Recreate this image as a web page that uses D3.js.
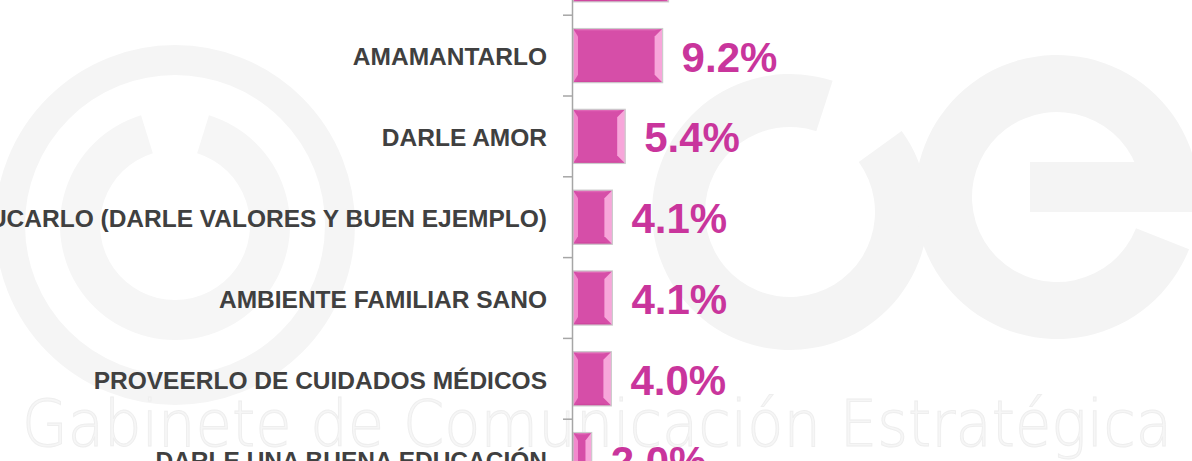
<!DOCTYPE html>
<html>
<head>
<meta charset="utf-8">
<script src="https://cdn.jsdelivr.net/npm/d3@7"></script>
<style>
  html, body { margin: 0; padding: 0; background: #ffffff; overflow: hidden; }
</style>
</head>
<body>
<div id="chartDiv" style="width:1192px;height:461px;"></div>
<script>
// data (top bar is cut off in the picture, its label sits above the frame)
var categories = ['CUIDARLO Y PROTEGERLO', 'AMAMANTARLO', 'DARLE AMOR',
    'EDUCARLO (DARLE VALORES Y BUEN EJEMPLO)', 'AMBIENTE FAMILIAR SANO',
    'PROVEERLO DE CUIDADOS MÉDICOS', 'DARLE UNA BUENA EDUCACIÓN'];
var values = [9.8, 9.2, 5.4, 4.1, 4.1, 4.0, 2.0];
var valueLabels = ['9.8%', '9.2%', '5.4%', '4.1%', '4.1%', '4.0%', '2.0%'];

var width = 1192, height = 461;

var svg = d3.select('#chartDiv').append('svg')
    .attr('width', width)
    .attr('height', height);

// watermark (gce logo + text) in very light gray
var wm = svg.append('g').attr('class', 'watermark');
var arc = d3.arc();
// left round logo
wm.append('circle').attr('cx', 175).attr('cy', 225).attr('r', 165)
    .attr('fill', 'none').attr('stroke', '#f5f5f5').attr('stroke-width', 30);
wm.append('path').attr('transform', 'translate(175,225)')
    .attr('d', arc({innerRadius: 75, outerRadius: 115, startAngle: 0.3, endAngle: 2 * Math.PI - 0.3}))
    .attr('fill', '#f6f6f6');
// "c"
wm.append('path').attr('transform', 'translate(790,212)')
    .attr('d', arc({innerRadius: 85, outerRadius: 138, startAngle: Math.PI * 0.3, endAngle: Math.PI * 1.7 + Math.PI * 0.4}))
    .attr('fill', '#f4f4f4');
// "e"
wm.append('path').attr('transform', 'translate(1057,197)')
    .attr('d', arc({innerRadius: 85, outerRadius: 142, startAngle: Math.PI * 0.62, endAngle: Math.PI * 2.5}))
    .attr('fill', '#f4f4f4');
wm.append('rect').attr('x', 1030).attr('y', 162).attr('width', 170).attr('height', 50)
    .attr('fill', '#f4f4f4');
wm.append('text')
    .attr('x', 22).attr('y', 446)
    .attr('textLength', 1150)
    .attr('lengthAdjust', 'spacingAndGlyphs')
    .style('font-family', 'DejaVu Sans')
    .style('font-weight', 200)
    .style('font-size', '64px')
    .style('fill', '#f6f6f6')
    .style('stroke', '#eeeeee')
    .style('stroke-width', 1)
    .text('Gabinete de Comunicación Estratégica');

// scales
var y = d3.scaleBand()
    .domain(categories)
    .range([-65.6, 500])
    .paddingInner(0.33)
    .paddingOuter(0.165);

var x = d3.scaleLinear()
    .domain([0, 10])
    .range([572, 670.5]);

var gap = y.step() * y.paddingInner();

// bars
var bars = svg.selectAll('.bar')
    .data(values)
    .enter().append('g')
    .attr('class', 'bar');

bars.append('rect')
    .attr('x', x(0) + 1)
    .attr('y', function(d, i) { return y(categories[i]); })
    .attr('width', function(d) { return x(d) - x(0) - 1; })
    .attr('height', y.bandwidth())
    .style('fill', '#d64ea8');

// bevel edges
function bevel(d, i, side) {
    var x0 = x(0) + 1, x1 = x(d), y0 = y(categories[i]), y1 = y0 + y.bandwidth();
    var bl = Math.min(5, (x1 - x0) / 3), br = Math.min(8, (x1 - x0) / 3), bt = 8;
    if (side == 'left') return [[x0, y0], [x0 + bl, y0 + bt], [x0 + bl, y1 - bt], [x0, y1]];
    if (side == 'right') return [[x1, y0], [x1 - br, y0 + bt], [x1 - br, y1 - bt], [x1, y1]];
    if (side == 'top') return [[x0, y0], [x1, y0], [x1 - br, y0 + 2], [x0 + bl, y0 + 2]];
    return [[x0, y1], [x1, y1], [x1 - br, y1 - 2], [x0 + bl, y1 - 2]];
}
var bevelColors = {left: '#f28acd', right: '#f7a6da', top: '#e066b6', bottom: '#cf479f'};
['top', 'bottom', 'left', 'right'].forEach(function(side) {
    bars.append('polygon')
        .attr('points', function(d, i) { return bevel(d, i, side).join(' '); })
        .style('fill', bevelColors[side]);
});

bars.append('rect')
    .attr('x', x(0) + 1)
    .attr('y', function(d, i) { return y(categories[i]); })
    .attr('width', function(d) { return x(d) - x(0) - 1; })
    .attr('height', y.bandwidth())
    .style('fill', 'none')
    .style('stroke', '#cccccc')
    .style('stroke-width', 1.2);

// axis line + ticks between categories
svg.append('g')
    .attr('transform', 'translate(' + x(0) + ',0)')
    .call(d3.axisLeft(y).tickSize(0).tickFormat(''))
    .call(function(g) { g.select('.domain').attr('stroke', '#a6a6a6').attr('stroke-width', 1.5); });

svg.selectAll('.sep')
    .data(categories)
    .enter().append('line')
    .attr('class', 'sep')
    .attr('x1', x(0) - 9)
    .attr('x2', x(0))
    .attr('y1', function(d) { return y(d) + y.bandwidth() + gap / 2; })
    .attr('y2', function(d) { return y(d) + y.bandwidth() + gap / 2; })
    .attr('stroke', '#a6a6a6')
    .attr('stroke-width', 1.5);

// category labels
svg.selectAll('.catLabel')
    .data(categories)
    .enter().append('text')
    .attr('class', 'catLabel')
    .attr('x', 547)
    .attr('y', function(d) { return y(d) + y.bandwidth() / 2; })
    .attr('dy', '0.4em')
    .attr('text-anchor', 'end')
    .style('font-family', 'Liberation Sans, Arial, sans-serif')
    .style('font-weight', 'bold')
    .style('font-size', '24.5px')
    .style('fill', '#404040')
    .text(function(d) { return d; });

// value labels
svg.selectAll('.valLabel')
    .data(values)
    .enter().append('text')
    .attr('class', 'valLabel')
    .attr('x', function(d) { return x(d) + 19; })
    .attr('y', function(d, i) { return y(categories[i]) + y.bandwidth() / 2; })
    .attr('dy', '0.38em')
    .style('font-family', 'Liberation Sans, Arial, sans-serif')
    .style('font-weight', 'bold')
    .style('font-size', '42px')
    .style('fill', '#c9359c')
    .text(function(d, i) { return valueLabels[i]; });
</script>
</body>
</html>
